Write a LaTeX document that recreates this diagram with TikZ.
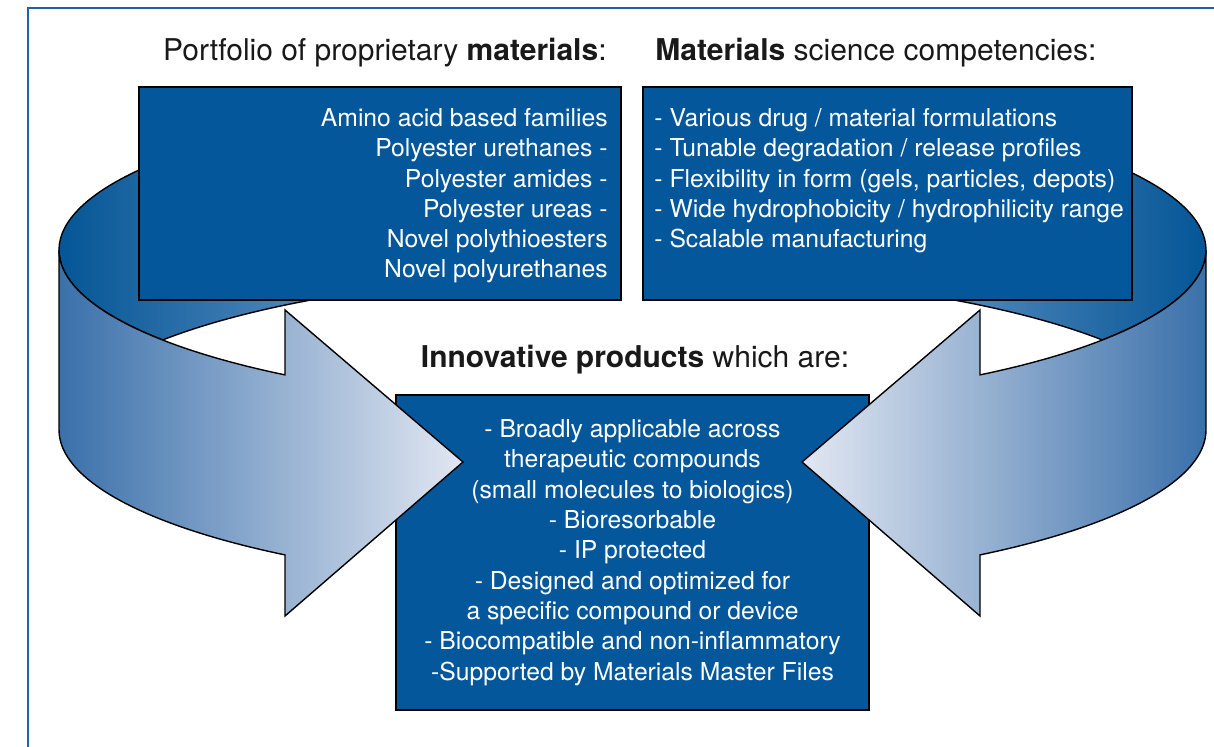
\documentclass[tikz,border=0pt]{standalone}
\usepackage{fontspec}
\setmainfont{TeX Gyre Heros}
\usepackage{tikz}
\usetikzlibrary{positioning}
\definecolor{boxblue}{RGB}{3,87,154}
\definecolor{frameblue}{RGB}{31,99,166}
\definecolor{innerdark}{RGB}{4,86,150}
\definecolor{innermid}{RGB}{0,101,161}
\definecolor{innerlight}{RGB}{92,142,192}
\definecolor{facedark}{RGB}{58,112,170}
\definecolor{facelight}{RGB}{226,231,242}

\begin{document}
\begin{tikzpicture}[
    x=0.5pt, y=-0.5pt,
    font=\fontsize{12.35}{15.15}\selectfont,
    panel/.style={
		rectangle,
		draw=black,
		line width=1pt,
		fill=boxblue,
		inner sep=0pt
	},
	listing/.style={
		text=white,
		inner sep=0pt
	},
	heading/.style={
		font=\fontsize{15}{18}\selectfont,
		text=black!90,
		inner sep=0pt
	},
	band/.style={
		draw=black,
		line width=0.7pt
	},
	rim/.style={
		x radius=286.75pt,
		y radius=78.5pt
	}
  ]
  \useasboundingbox (0,0) rectangle (1214,747);

  % frame
  \draw [frameblue, line width=1.2pt] (28,747) -- (28,8) -- (1214,8);

  % inner side of the band, behind the blocks
  \path [band, left color=innerdark, middle color=innermid, right color=innerlight]
    (59,250) arc [rim, start angle=180, end angle=148.2]
    -- (145,150) -- (345.75,150) -- (345.75,294.03)
    arc [rim, start angle=120, end angle=145]
    arc [rim, start angle=215, end angle=180] -- cycle;
  \path [band, left color=innerlight, middle color=innermid, right color=innerdark]
    (1206,250) arc [rim, start angle=0, end angle=31.8]
    -- (1119.9,150) -- (919.25,150) -- (919.25,294.03)
    arc [rim, start angle=60, end angle=35]
    arc [rim, start angle=-35, end angle=0] -- cycle;

  % We start by placing the blocks
  \node [panel, minimum width=241pt, minimum height=106.5pt] (portfolio) at (380,193.5) {};
  \node [panel, minimum width=244.5pt, minimum height=106.5pt] (science) at (887.5,193.5) {};

  \node [listing, anchor=north east, align=right, xshift=-7pt, yshift=-11pt] (portfoliolist)
    at (portfolio.north east)
 {%
  Amino acid based families\\
  Polyester urethanes -\\
  Polyester amides -\\
  Polyester ureas -\\
  Novel polythioesters\\
  Novel polyurethanes
 };

  \node [listing, anchor=north west, align=left, xshift=6pt, yshift=-11pt] (sciencelist)
    at (science.north west)
 {%
  - Various drug / material formulations\\
  - Tunable degradation / release profiles\\
  - Flexibility in form (gels, particles, depots)\\
  - Wide hydrophobicity / hydrophilicity range\\
  - Scalable manufacturing
 };

  \node [heading, anchor=base east] (portfoliohead) at (607,61)
    {Portfolio of proprietary \textbf{materials}:};
  \node [heading, anchor=base west] (sciencehead) at (655,61)
    {\textbf{Materials} science competencies:};
  \node [heading, anchor=base] (productshead) at (635,368)
    {\textbf{Innovative products} which are:};

  \node [panel, listing, minimum width=236.5pt, minimum height=157.5pt, align=center] (products)
    at (632.5,552.5)
 {%
  - Broadly applicable across\\
  therapeutic compounds\\
  (small molecules to biologics)\\
  - Bioresorbable\\
  - IP protected\\
  - Designed and optimized for\\
  a specific compound or device\\
  - Biocompatible and non-inflammatory\\
  -Supported by Materials Master Files
 };

  % front of the band with the arrow heads
  \path [band, left color=facedark, right color=facelight]
    (59,250) arc [rim, start angle=180, end angle=232.7]
    -- (285,310) -- (463,462) -- (285,616) -- (285,554.9)
    arc [rim, start angle=232.7, end angle=180] -- cycle;
  \path [band, left color=facelight, right color=facedark]
    (1206,250) arc [rim, start angle=0, end angle=-52.7]
    -- (980,310) -- (802,462) -- (980,616) -- (980,554.9)
    arc [rim, start angle=-52.7, end angle=0] -- cycle;

\end{tikzpicture}
\end{document}
